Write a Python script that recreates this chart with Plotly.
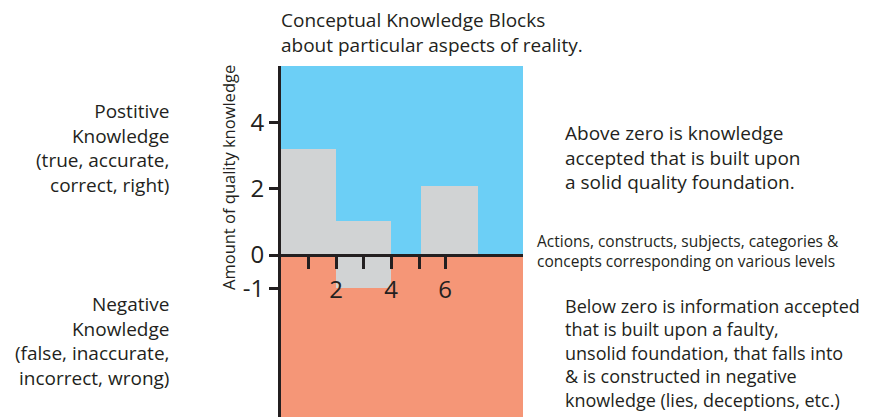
import plotly.graph_objects as go

# Data
bar_starts = [0, 2, 2, 5.1]
bar_ends = [2, 4, 4, 7.15]
bar_values = [3.2, 1.03, -0.98, 2.08]
x_tick_vals = [1, 2, 3, 4, 5.05, 5.97]
x_tick_text = ["", "2", "", "4", "", "6"]
y_tick_vals = [-1, 0, 2, 4]
y_tick_text = ["-1", "0", "2", "4"]

X_RANGE = [0, 8.8]
Y_RANGE = [-4.89, 5.71]

FONT = "Open Sans"
TXT = "#231F20"
BLUE = "#6CCFF6"
SALMON = "#F59677"
GRAY = "#D1D3D4"

centers = [(a + b) / 2 for a, b in zip(bar_starts, bar_ends)]
widths = [b - a for a, b in zip(bar_starts, bar_ends)]

fig = go.Figure()
fig.add_trace(go.Bar(x=centers, y=bar_values, width=widths, base=0,
                     marker=dict(color=GRAY, line=dict(width=0)),
                     hoverinfo="skip", showlegend=False))

# background regions
fig.add_shape(type="rect", xref="x", yref="y", x0=X_RANGE[0], x1=X_RANGE[1], y0=0, y1=Y_RANGE[1],
              fillcolor=BLUE, line=dict(width=0), layer="below")
fig.add_shape(type="rect", xref="x", yref="y", x0=X_RANGE[0], x1=X_RANGE[1], y0=Y_RANGE[0], y1=0,
              fillcolor=SALMON, line=dict(width=0), layer="below")

OFF = 8  # page body margin
W, H = 878 - OFF, 419 - OFF
L = 281 - OFF
T = 66 - OFF
plot_right = 523 - OFF
plot_bottom = 417 - OFF
R = W - plot_right
B = H - plot_bottom
pw, ph = W - L - R, H - T - B

def px(x):
    return (x - OFF - L) / pw

def py(y):
    return (plot_bottom - (y - OFF)) / ph

zero_pos = (0 - Y_RANGE[0]) / (Y_RANGE[1] - Y_RANGE[0])

fig.update_layout(
    width=W, height=H,
    margin=dict(l=L, r=R, t=T, b=B, pad=0),
    paper_bgcolor="white", plot_bgcolor=SALMON,
    font=dict(family=FONT, color=TXT),
    bargap=0,
    xaxis=dict(range=X_RANGE, anchor="free", position=zero_pos,
               showline=True, linecolor=TXT, linewidth=3,
               ticks="outside", ticklen=12, tickwidth=3, tickcolor=TXT,
               tickvals=x_tick_vals, ticktext=x_tick_text,
               tickfont=dict(size=24, family=FONT, color=TXT),
               showgrid=False, zeroline=False, fixedrange=True),
    yaxis=dict(range=Y_RANGE, showline=True, linecolor=TXT, linewidth=3,
               ticks="outside", ticklen=9, tickwidth=3, tickcolor=TXT,
               tickvals=y_tick_vals, ticktext=y_tick_text,
               tickfont=dict(size=24, family=FONT, color=TXT),
               showgrid=False, zeroline=False, fixedrange=True),
)

def ann(text, x, y, xanchor="left", yanchor="middle", size=19, align="left", angle=0):
    fig.add_annotation(text=text, xref="paper", yref="paper", x=px(x), y=py(y),
                       xanchor=xanchor, yanchor=yanchor, showarrow=False, align=align,
                       textangle=angle, borderpad=0, borderwidth=0,
                       font=dict(size=size, family=FONT, color=TXT))

ann("Conceptual Knowledge Blocks<br>about particular aspects of reality.", 281, 32)
ann("Postitive<br>Knowledge<br>(true, accurate,<br>correct, right)", 169, 148, xanchor="right", align="right")
ann("Negative<br>Knowledge<br>(false, inaccurate,<br>incorrect, wrong)", 169, 341, xanchor="right", align="right")
ann("Above zero is knowledge<br>accepted that is built upon<br>a solid quality foundation.", 565, 157)
ann("Actions, constructs, subjects, categories &amp;<br>concepts corresponding on various levels", 537, 251, size=15.5)
ann("Below zero is information accepted<br>that is built upon a faulty,<br>unsolid foundation, that falls into<br>&amp; is constructed in negative<br>knowledge (lies, deceptions, etc.)", 565, 353, size=18)
ann("Amount of quality knowledge", 228, 178, xanchor="center", size=16.5, angle=-90)

fig.write_html("out.html")
